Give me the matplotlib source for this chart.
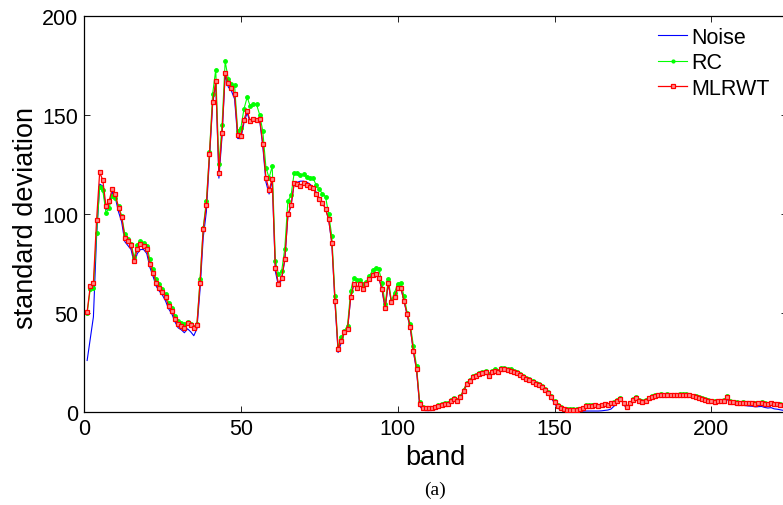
import numpy as np
import matplotlib
matplotlib.use("Agg")
import matplotlib.pyplot as plt

plt.rcParams['font.family'] = ['Liberation Sans', 'DejaVu Sans']

bands = np.arange(1, 225)

noise = [
    26.0, 37.0, 48.0, 88.0, 115.0, 114.0, 102.0, 105.0, 111.0, 108.0,
    101.0, 96.0, 86.0, 84.0, 82.0, 75.0, 80.0, 82.0, 82.0, 80.0,
    73.0, 68.5, 63.5, 61.0, 59.0, 56.0, 52.0, 49.5, 45.5, 42.5,
    41.5, 40.0, 42.0, 40.5, 38.5, 42.0, 62.0, 88.0, 101.0, 128.0,
    155.0, 166.0, 118.0, 139.0, 170.0, 164.0, 162.0, 158.0, 138.0, 138.0,
    146.0, 151.0, 146.0, 148.0, 147.0, 147.0, 134.0, 116.0, 110.0, 117.0,
    71.0, 63.5, 67.0, 76.5, 99.0, 104.0, 115.5, 116.0, 116.5, 116.5,
    116.0, 115.0, 113.5, 111.0, 108.0, 106.0, 102.5, 97.0, 85.0, 55.5,
    30.0, 35.0, 40.0, 41.5, 57.5, 64.5, 63.0, 64.5, 62.0, 64.5,
    67.0, 69.0, 69.5, 67.5, 61.5, 52.0, 65.0, 55.0, 57.5, 62.5,
    62.5, 56.0, 49.0, 42.5, 30.5, 21.0, 3.0, 1.0, 0.7, 0.7,
    0.8, 1.2, 1.8, 2.5, 3.0, 3.6, 5.0, 6.0, 5.5, 7.0,
    10.3, 13.7, 15.4, 17.1, 17.9, 18.7, 19.2, 19.6, 18.0, 19.7,
    20.5, 19.7, 21.4, 21.4, 20.9, 20.5, 19.7, 19.2, 18.5, 17.5,
    16.5, 15.6, 14.7, 13.9, 13.1, 12.2, 10.7, 9.1, 7.0, 4.3,
    2.0, 1.0, 0.5, 0.4, 0.4, 0.4, 0.4, 0.4, 0.4, 0.5,
    0.5, 0.5, 0.5, 0.5, 0.6, 0.8, 1.0, 1.5, 3.0, 5.5,
    7.0, 4.0, 1.5, 4.0, 6.5, 7.0, 5.6, 4.8, 5.4, 6.8,
    7.4, 8.0, 8.3, 8.4, 8.3, 8.4, 8.3, 8.2, 8.3, 8.4,
    8.6, 8.4, 8.2, 7.8, 7.4, 7.0, 6.5, 6.0, 5.5, 5.0,
    4.6, 4.6, 4.6, 4.7, 6.5, 4.3, 3.9, 3.6, 3.4, 3.4,
    3.2, 3.0, 2.9, 2.6, 2.7, 2.8, 2.3, 2.0, 2.2, 1.6,
    1.4, 1.1, 0.8, 0.5,
]

rc = [
    50.0, 62.0, 62.8, 90.5, 113.5, 111.8, 100.6, 103.0, 109.0, 108.0,
    104.0, 99.0, 90.0, 87.5, 85.0, 78.0, 84.5, 86.5, 85.5, 84.0,
    77.0, 72.0, 67.0, 64.5, 62.0, 59.5, 55.0, 52.5, 48.5, 46.0,
    45.0, 44.5, 45.5, 44.5, 43.0, 44.5, 67.0, 93.0, 106.5, 131.0,
    160.5, 172.8, 125.0, 144.6, 177.0, 168.0, 165.6, 165.0, 141.7, 143.4,
    153.0, 158.8, 154.3, 155.5, 155.2, 150.0, 141.7, 123.3, 118.2, 124.0,
    76.2, 69.5, 71.0, 82.5, 106.5, 109.3, 120.7, 120.7, 119.4, 120.0,
    118.7, 118.2, 118.2, 114.5, 112.3, 110.2, 108.7, 99.7, 88.8, 58.6,
    32.5, 37.6, 41.0, 43.5, 61.1, 67.8, 66.6, 66.6, 64.5, 65.6,
    68.7, 71.5, 72.9, 72.0, 65.3, 54.4, 67.0, 56.1, 60.3, 64.8,
    65.0, 58.6, 50.2, 44.4, 33.4, 23.3, 4.9, 2.4, 2.1, 2.1,
    2.1, 2.7, 3.3, 3.9, 4.4, 4.6, 6.1, 6.9, 6.3, 7.9,
    11.2, 14.6, 16.4, 18.1, 18.9, 19.8, 20.3, 20.7, 19.0, 20.7,
    21.5, 20.7, 22.4, 22.4, 21.9, 21.5, 20.7, 20.1, 19.4, 18.4,
    17.4, 16.5, 15.6, 14.8, 13.9, 13.0, 11.5, 10.0, 8.0, 5.4,
    3.3, 2.3, 1.7, 1.4, 1.4, 1.4, 1.4, 1.5, 2.1, 3.4,
    3.4, 3.4, 3.6, 3.2, 3.6, 4.2, 3.5, 4.6, 4.9, 6.1,
    7.2, 4.6, 2.7, 4.6, 6.5, 7.5, 6.1, 5.3, 5.9, 7.3,
    7.9, 8.5, 8.8, 8.9, 8.8, 8.9, 8.8, 8.7, 8.8, 8.9,
    9.1, 8.9, 8.7, 8.3, 7.9, 7.5, 7.1, 6.6, 6.1, 5.7,
    5.4, 5.6, 5.7, 5.9, 7.9, 5.5, 5.1, 4.9, 4.7, 4.9,
    4.7, 4.6, 4.6, 4.3, 4.6, 4.9, 4.4, 4.2, 4.7, 4.1,
    4.1, 4.0, 3.8, 3.6,
]

mlrwt = [
    50.5, 63.6, 65.3, 96.7, 121.0, 116.9, 104.0, 106.5, 112.7, 110.2,
    103.0, 98.4, 88.0, 86.3, 84.1, 76.2, 82.5, 84.6, 83.8, 82.1,
    74.6, 70.4, 65.3, 62.8, 60.6, 57.8, 53.6, 51.0, 46.9, 44.3,
    43.5, 42.3, 44.7, 44.0, 42.3, 44.0, 65.3, 92.2, 104.3, 130.3,
    156.3, 166.9, 120.7, 140.9, 171.1, 166.0, 163.6, 160.5, 140.0, 139.2,
    147.6, 152.1, 146.8, 148.1, 147.3, 148.1, 135.4, 118.2, 112.0, 117.7,
    72.9, 64.8, 67.8, 77.1, 99.7, 104.3, 115.4, 114.9, 114.0, 115.7,
    114.4, 113.7, 112.8, 110.2, 107.3, 105.6, 102.3, 97.2, 85.5, 56.1,
    31.7, 35.9, 40.2, 41.8, 57.8, 64.5, 62.8, 64.5, 62.0, 64.5,
    67.3, 69.0, 69.5, 67.8, 62.0, 52.7, 65.3, 55.3, 57.8, 62.8,
    62.8, 56.1, 49.4, 42.7, 30.9, 21.7, 4.0, 2.0, 1.8, 1.8,
    1.8, 2.4, 3.0, 3.6, 4.0, 4.2, 5.7, 6.5, 5.8, 7.4,
    10.7, 14.1, 15.8, 17.5, 18.3, 19.1, 19.6, 20.0, 18.3, 20.0,
    20.8, 20.0, 21.7, 21.7, 21.2, 20.8, 20.0, 19.5, 18.8, 17.8,
    16.8, 15.9, 15.0, 14.2, 13.4, 12.5, 11.0, 9.5, 7.5, 5.0,
    3.0, 2.0, 1.5, 1.2, 1.2, 1.2, 1.2, 1.3, 1.9, 3.2,
    3.2, 3.2, 3.4, 3.0, 3.4, 4.0, 3.3, 4.3, 4.6, 5.7,
    6.6, 4.3, 2.5, 4.3, 6.2, 7.1, 5.8, 5.0, 5.6, 7.0,
    7.6, 8.2, 8.5, 8.6, 8.5, 8.6, 8.5, 8.4, 8.5, 8.6,
    8.8, 8.6, 8.4, 8.0, 7.6, 7.2, 6.8, 6.3, 5.8, 5.4,
    5.1, 5.3, 5.4, 5.6, 7.5, 5.2, 4.8, 4.6, 4.4, 4.6,
    4.4, 4.3, 4.3, 4.0, 4.3, 4.6, 4.1, 3.9, 4.4, 3.8,
    3.8, 3.7, 3.5, 3.3,
]

xticks = [0, 50, 100, 150, 200]
yticks = [0, 50, 100, 150, 200]

W, H = 783, 506
fig = plt.figure(figsize=(W / 100, H / 100), dpi=100)
ax = fig.add_axes([84 / W, (H - 413) / H, (786.7 - 84) / W, (413 - 16.7) / H])

ax.plot(bands, noise, color='#0000ff', lw=0.8, label='Noise', zorder=2)
ax.plot(bands, rc, color='#00ff00', lw=0.8, marker='.', ms=5,
        label='RC', zorder=3)
ax.plot(bands, mlrwt, color='#ff0000', lw=0.9, marker='s', ms=3.3,
        mfc='#ff8c8c', mec='#ff0000', mew=0.9, label='MLRWT', zorder=4)

ax.set_xlim(0, 224)
ax.set_ylim(0, 200)
ax.set_xticks(xticks)
ax.set_yticks(yticks)
ax.tick_params(direction='in', top=True, right=True, length=4, width=0.6,
               labelsize=15.5, pad=4)
for sp in ax.spines.values():
    sp.set_linewidth(0.9)

fig.text(435 / W, 1 - 465 / H, 'band', ha='center', va='baseline', fontsize=19.5)
fig.text(13 / W, 1 - 218 / H, 'standard deviation', rotation=90,
         ha='left', va='center', fontsize=19.5)
fig.text(435 / W, 1 - 490 / H, '(a)', ha='center', va='center',
         fontsize=14, family=['Liberation Serif', 'DejaVu Serif'])

leg = ax.legend(loc='upper left', bbox_to_anchor=(658 / W, 1 - 28 / H),
                bbox_transform=fig.transFigure, frameon=False, fontsize=15.5,
                handlelength=1.35, handletextpad=0.2, labelspacing=0.2,
                borderpad=0, borderaxespad=0, numpoints=1, markerscale=0.8)

fig.savefig('out.png', dpi=100)
